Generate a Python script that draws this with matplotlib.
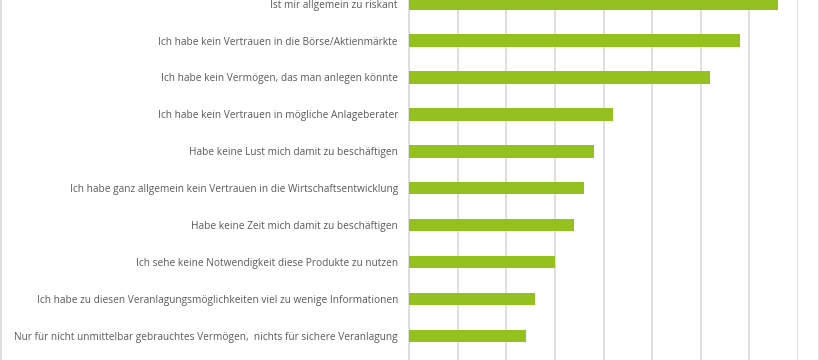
import matplotlib
matplotlib.use("Agg")
import matplotlib.pyplot as plt
from matplotlib.lines import Line2D

# Data (percent)
labels = [
    "Ist mir allgemein zu riskant",
    "Ich habe kein Vertrauen in die Börse/Aktienmärkte",
    "Ich habe kein Vermögen, das man anlegen könnte",
    "Ich habe kein Vertrauen in mögliche Anlageberater",
    "Habe keine Lust mich damit zu beschäftigen",
    "Ich habe ganz allgemein kein Vertrauen in die Wirtschaftsentwicklung",
    "Habe keine Zeit mich damit zu beschäftigen",
    "Ich sehe keine Notwendigkeit diese Produkte zu nutzen",
    "Ich habe zu diesen Veranlagungsmöglichkeiten viel zu wenige Informationen",
    "Nur für nicht unmittelbar gebrauchtes Vermögen,  nichts für sichere Veranlagung",
]
values = [37.9, 34.0, 31.0, 21.0, 19.0, 18.0, 17.0, 15.0, 13.0, 12.0]
xticks = [0, 5, 10, 15, 20, 25, 30, 35, 40]

plt.rcParams['font.family'] = ['Open Sans', 'DejaVu Sans']

fig = plt.figure(figsize=(8.2, 3.6), dpi=100)
ax = fig.add_axes([409 / 820, 0, 389 / 820, 1])

ypos = list(range(len(labels)))
ax.barh(ypos, values, height=0.34, color='#95c11f', zorder=3)

ax.set_xlim(0, 40)
ax.set_ylim(9.656, -0.1)
ax.set_xticks(xticks)
ax.set_xticklabels([])
ax.tick_params(axis='x', length=0)
ax.xaxis.grid(True, color='#d9d9d9', linewidth=1.2, zorder=0)

ax.set_yticks(ypos)
ax.set_yticklabels(labels, fontsize=7.25, color='#595959')
ax.tick_params(axis='y', length=0, pad=8)

for s in ['top', 'right', 'bottom']:
    ax.spines[s].set_visible(False)
ax.spines['left'].set_color('#d9d9d9')
ax.spines['left'].set_linewidth(1.2)

# outer chart frame (left and right edges)
fig.add_artist(Line2D([0.5 / 820, 0.5 / 820], [0, 1], color='#d9d9d9', linewidth=1.2))
fig.add_artist(Line2D([819.3 / 820, 819.3 / 820], [0, 1], color='#d9d9d9', linewidth=1.2))

fig.savefig("out.png", dpi=100)
